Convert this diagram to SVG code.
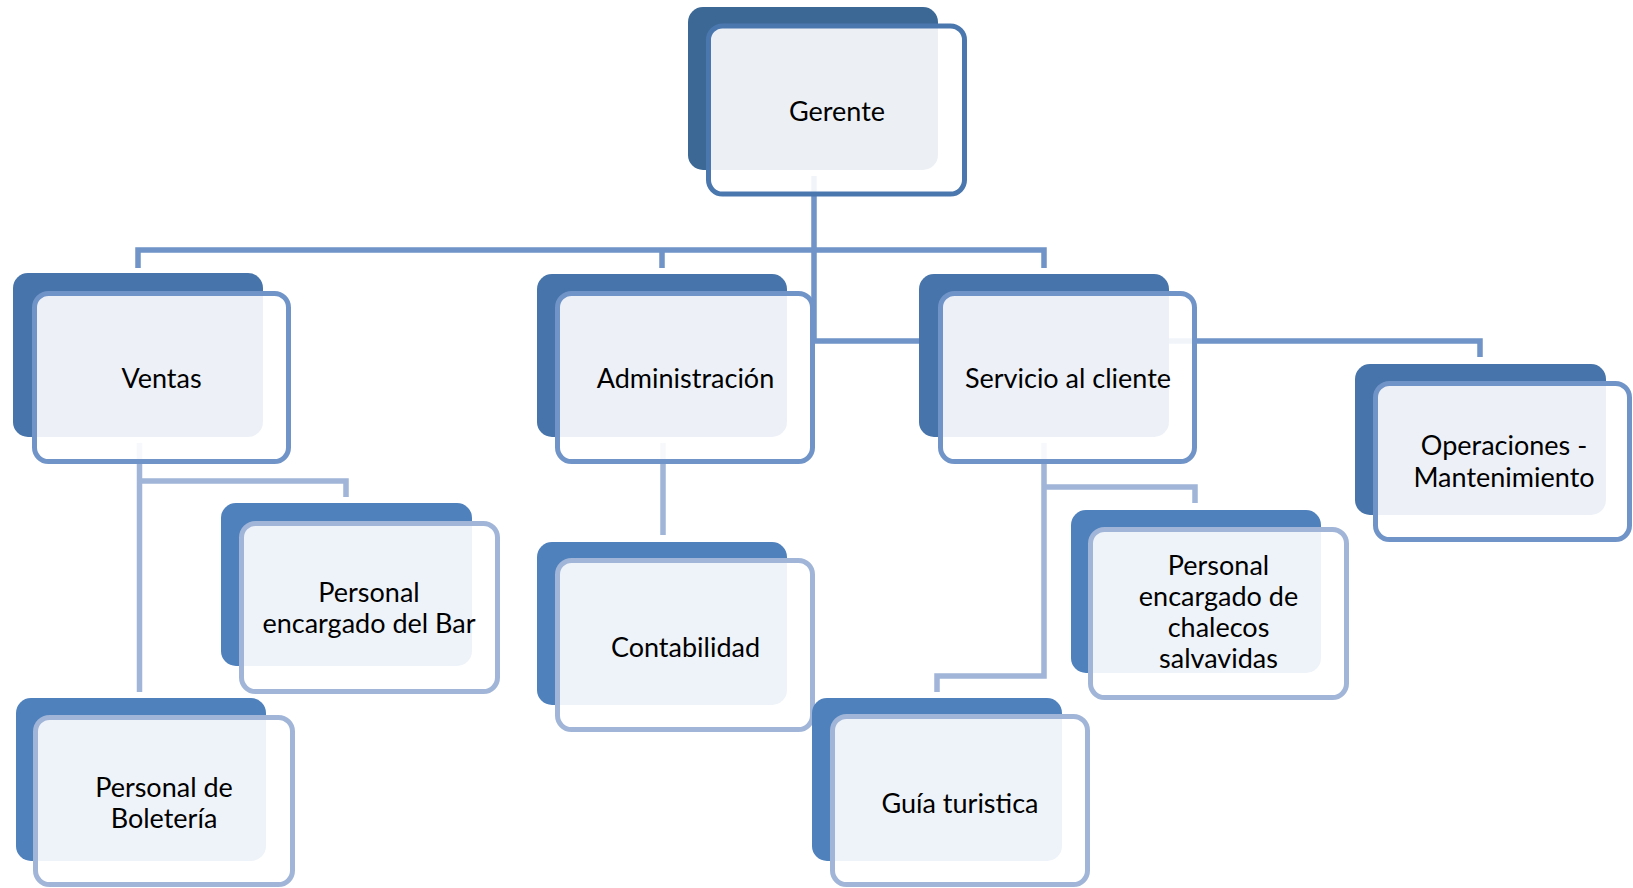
<svg xmlns="http://www.w3.org/2000/svg" width="1633" height="888" viewBox="0 0 1633 888">
<style>
.bk0{fill:#3C6896}
.bk1{fill:#4774AA}
.bk2{fill:#4F81BD}
.fr{fill:#ffffff;fill-opacity:0.9;stroke-width:5}
.fr0{stroke:#4A77AE}
.fr1{stroke:#7094C8}
.fr2{stroke:#A0B5D7}
.c0{fill:none;stroke:#7094C8;stroke-width:5.5}
.c1{fill:none;stroke:#A0B5D7;stroke-width:5.5}
text{font-family:Lato,"Liberation Sans",sans-serif;font-size:27px;fill:#000;text-anchor:middle}
</style>
<rect width="1633" height="888" fill="#ffffff"/>
<g id="connectors">
<path class="c0" d="M814,176 V341 H1480 V357"/>
<path class="c0" d="M138,268 V250 H1044 V268 M662,250 V268"/>
<path class="c1" d="M139.5,443 V692 M139.5,481 H346 V497"/>
<path class="c1" d="M663,443 V535"/>
<path class="c1" d="M1044,443 V676 H937 V692 M1044,487 H1195 V503"/>
</g>
<g id="gerente">
<rect class="bk0" x="688" y="7" width="250" height="163" rx="15"/>
<rect class="fr fr0" x="708.5" y="26" width="256" height="168" rx="14"/>
<text x="837" y="121">Gerente</text>
</g>
<g id="ventas">
<rect class="bk1" x="13" y="273" width="250" height="164" rx="15"/>
<rect class="fr fr1" x="34.5" y="293.5" width="254" height="168" rx="14"/>
<text x="161.5" y="388">Ventas</text>
</g>
<g id="administracion">
<rect class="bk1" x="537" y="274" width="250" height="163" rx="15"/>
<rect class="fr fr1" x="557.5" y="293.5" width="255" height="168" rx="14"/>
<text x="685.5" y="388">Administración</text>
</g>
<g id="servicio">
<rect class="bk1" x="919" y="274" width="250" height="163" rx="15"/>
<rect class="fr fr1" x="940.5" y="293.5" width="254" height="168" rx="14"/>
<text x="1068" y="388">Servicio al cliente</text>
</g>
<g id="operaciones">
<rect class="bk1" x="1355" y="364" width="251" height="151" rx="15"/>
<rect class="fr fr1" x="1375.5" y="383.5" width="254" height="156" rx="14"/>
<text x="1504" y="455">Operaciones -</text>
<text x="1504" y="487">Mantenimiento</text>
</g>
<g id="bar">
<rect class="bk2" x="221" y="503" width="251" height="163" rx="15"/>
<rect class="fr fr2" x="241.5" y="523.5" width="256" height="168" rx="14"/>
<text x="369" y="602">Personal</text>
<text x="369" y="633">encargado del Bar</text>
</g>
<g id="boleteria">
<rect class="bk2" x="16" y="698" width="250" height="163" rx="15"/>
<rect class="fr fr2" x="35.5" y="717.5" width="257" height="167" rx="14"/>
<text x="164" y="797">Personal de</text>
<text x="164" y="828">Boletería</text>
</g>
<g id="contabilidad">
<rect class="bk2" x="537" y="542" width="250" height="163" rx="15"/>
<rect class="fr fr2" x="557.5" y="560.5" width="255" height="169" rx="14"/>
<text x="685.5" y="657">Contabilidad</text>
</g>
<g id="chalecos">
<rect class="bk2" x="1071" y="510" width="250" height="163" rx="15"/>
<rect class="fr fr2" x="1090.5" y="529.5" width="256" height="168" rx="14"/>
<text x="1218.5" y="575">Personal</text>
<text x="1218.5" y="606">encargado de</text>
<text x="1218.5" y="637">chalecos</text>
<text x="1218.5" y="668">salvavidas</text>
</g>
<g id="guia">
<rect class="bk2" x="812" y="698" width="250" height="163" rx="15"/>
<rect class="fr fr2" x="832.5" y="716.5" width="255" height="168" rx="14"/>
<text x="960" y="813">Guía turistica</text>
</g>
</svg>
